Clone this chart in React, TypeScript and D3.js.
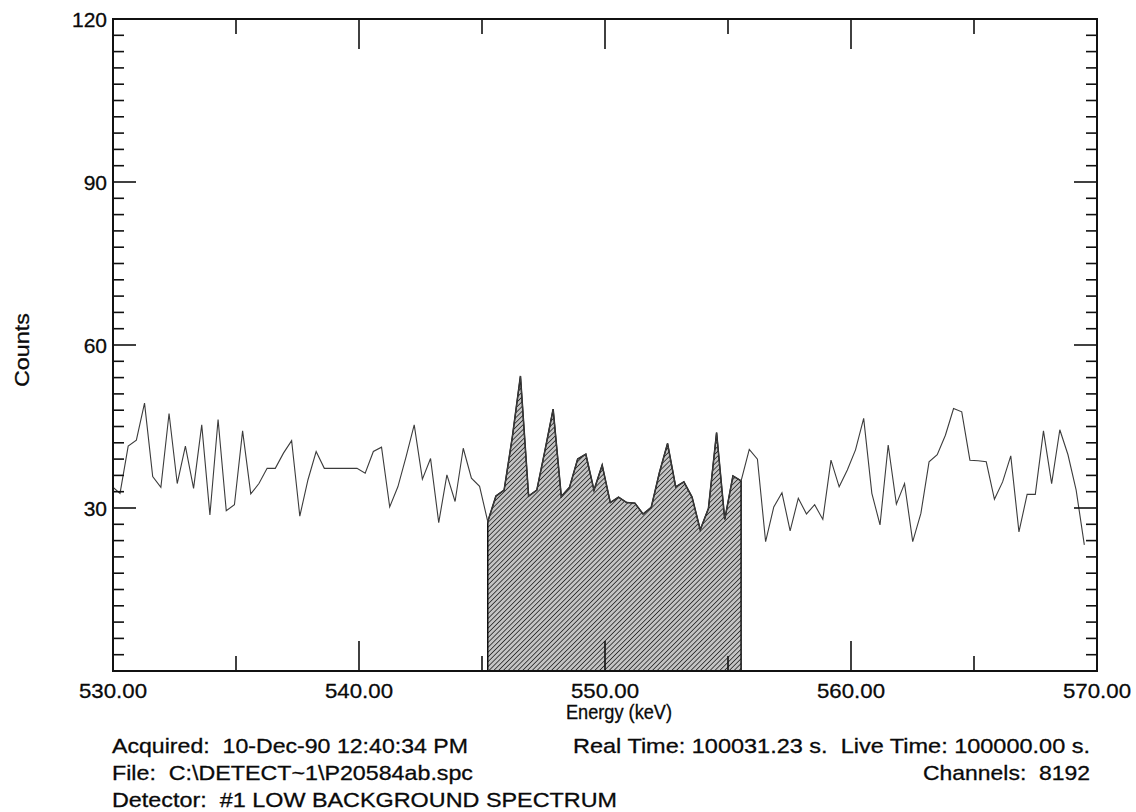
import React from "react";
import * as d3 from "d3";

// Channel calibration: energy of the first listed channel and keV per channel
const E0 = 529.953;
const GAIN = 0.3322;

// Counts per channel, 529.95 – 569.5 keV
const counts = [
  34, 32.7, 41.4, 42.5, 49.3, 35.8, 33.8, 47.4, 34.5, 41.4,
  33.6, 45.3, 28.7, 46.3, 29.5, 30.6, 44.2, 32.6, 34.5, 37.3,
  37.3, 40.1, 42.4, 28.5, 35.2, 40.4, 37.3, 37.3, 37.3, 37.3,
  37.3, 36.4, 40.4, 41.2, 30.2, 33.9, 39.4, 45.3, 35.3, 39.1,
  27.3, 36.1, 31.2, 41.0, 35.5, 34.0, 27.5, 32.2, 33.3, 43.0,
  54.3, 32.2, 33.3, 40.6, 48.2, 32.1, 33.8, 39.0, 39.9, 33.3,
  37.9, 31.0, 32.0, 31.0, 30.9, 28.9, 30.1, 36.5, 41.9, 33.9,
  34.8, 32.0, 26.0, 29.9, 43.9, 27.9, 35.9, 35.0, 40.8, 39.0,
  23.8, 30.2, 32.8, 25.8, 31.8, 28.9, 30.6, 27.9, 38.8, 33.9,
  37.0, 40.7, 46.5, 32.7, 26.9, 41.6, 30.7, 34.5, 23.8, 29.0,
  38.5, 39.8, 43.4, 48.3, 47.7, 38.8, 38.7, 38.5, 31.6, 34.8,
  39.6, 25.6, 32.5, 32.5, 44.2, 34.5, 44.4, 39.8, 33.3, 23.2,
];

// Region of interest (channel indices, inclusive)
const roiStart = 46;
const roiEnd = 77;

const xDomain = [530, 570];
const yDomain = [0, 120];
const xTickValues = [535, 540, 545, 550, 555, 560, 565];
const xLabelValues = [530, 540, 550, 560, 570];
const yTickValues = d3.range(3, 120, 3);
const yLabelValues = [30, 60, 90, 120];

const xTitle = "Energy (keV)";
const yTitle = "Counts";
const footerLeft = [
  "Acquired:  10-Dec-90 12:40:34 PM",
  "File:  C:\\DETECT~1\\P20584ab.spc",
  "Detector:  #1 LOW BACKGROUND SPECTRUM",
];
const footerLeftWidths = [356, 361, 505];
const footerRight = [
  "Real Time: 100031.23 s.  Live Time: 100000.00 s.",
  "Channels:  8192",
];
const footerRightWidths = [517, 167];

const W = 1136;
const H = 812;
const L = 113;
const R = 1097;
const T = 19;
const B = 671;
const FONT = "'Liberation Sans', Arial, Helvetica, sans-serif";
const INK = "#0a0a0a";

export default function App() {
  const x = d3.scaleLinear().domain(xDomain).range([L, R]);
  const y = d3.scaleLinear().domain(yDomain).range([B, T]);

  const points = counts.map((c, i) => ({ e: E0 + i * GAIN, c, i }));
  const line = d3
    .line<{ e: number; c: number }>()
    .x((d) => x(d.e))
    .y((d) => y(d.c));
  const area = d3
    .area<{ e: number; c: number }>()
    .x((d) => x(d.e))
    .y0(y(0))
    .y1((d) => y(d.c));
  const roi = points.filter((d) => d.i >= roiStart && d.i <= roiEnd);

  const fmt = d3.format(".2f");
  const textStyle = { fill: INK, stroke: INK, strokeWidth: 0.3 };

  return (
    <svg
      width={W}
      height={H}
      viewBox={`0 0 ${W} ${H}`}
      style={{ position: "absolute", left: 0, top: 0, background: "#fff" }}
      fontFamily={FONT}
    >
      <defs>
        <clipPath id="plotClip">
          <rect x={L} y={T} width={R - L} height={B - T} />
        </clipPath>
        <pattern
          id="hatch"
          width={3.4}
          height={3.4}
          patternUnits="userSpaceOnUse"
          patternTransform="rotate(45)"
        >
          <rect width={3.4} height={3.4} fill="#c4c4c4" />
          <line x1={0} y1={0} x2={0} y2={3.4} stroke="#2e2e2e" strokeWidth={1.7} />
        </pattern>
      </defs>

      <rect width={W} height={H} fill="#fff" />

      <g clipPath="url(#plotClip)">
        <path d={area(roi) || ""} fill="url(#hatch)" stroke="#111" strokeWidth={1.5} />
        <path d={line(points) || ""} fill="none" stroke="#3c3c3c" strokeWidth={1.1} />
      </g>

      {/* y ticks on left and right frame */}
      {yTickValues.map((v) => {
        const len = v % 30 === 0 ? 23 : 11;
        return (
          <g key={`yt${v}`} stroke="#111" strokeWidth={1.6}>
            <line x1={L} x2={L + len} y1={y(v)} y2={y(v)} />
            <line x1={R} x2={R - len} y1={y(v)} y2={y(v)} />
          </g>
        );
      })}

      {/* x ticks on bottom and top frame */}
      {xTickValues.map((v) => {
        const len = v % 10 === 0 ? 30 : 15;
        return (
          <g key={`xt${v}`} stroke="#111" strokeWidth={1.6}>
            <line x1={x(v)} x2={x(v)} y1={B} y2={B - len} />
            <line x1={x(v)} x2={x(v)} y1={T} y2={T + len} />
          </g>
        );
      })}

      <rect x={L} y={T} width={R - L} height={B - T} fill="none" stroke="#111" strokeWidth={2} />

      {yLabelValues.map((v) => (
        <text key={`yl${v}`} x={107} y={y(v) + 7.5} fontSize={21} textAnchor="end" style={textStyle}>
          {v}
        </text>
      ))}

      {xLabelValues.map((v) => (
        <text
          key={`xl${v}`}
          x={x(v)}
          y={697.5}
          fontSize={21}
          textAnchor="middle"
          textLength={68}
          lengthAdjust="spacingAndGlyphs"
          style={textStyle}
        >
          {fmt(v)}
        </text>
      ))}

      <text
        x={566}
        y={719}
        fontSize={20}
        textLength={106}
        lengthAdjust="spacingAndGlyphs"
        style={textStyle}
      >
        {xTitle}
      </text>

      <text
        transform="translate(28.5, 350) rotate(-90)"
        fontSize={21}
        textAnchor="middle"
        textLength={74}
        lengthAdjust="spacingAndGlyphs"
        style={textStyle}
      >
        {yTitle}
      </text>

      {footerLeft.map((s, i) => (
        <text
          key={`fl${i}`}
          x={112}
          y={752.5 + i * 27}
          fontSize={21}
          textLength={footerLeftWidths[i]}
          lengthAdjust="spacingAndGlyphs"
          style={{ ...textStyle, whiteSpace: "pre" }}
        >
          {s}
        </text>
      ))}

      {footerRight.map((s, i) => (
        <text
          key={`fr${i}`}
          x={1090 - footerRightWidths[i]}
          y={752.5 + i * 27}
          fontSize={21}
          textLength={footerRightWidths[i]}
          lengthAdjust="spacingAndGlyphs"
          style={{ ...textStyle, whiteSpace: "pre" }}
        >
          {s}
        </text>
      ))}
    </svg>
  );
}
